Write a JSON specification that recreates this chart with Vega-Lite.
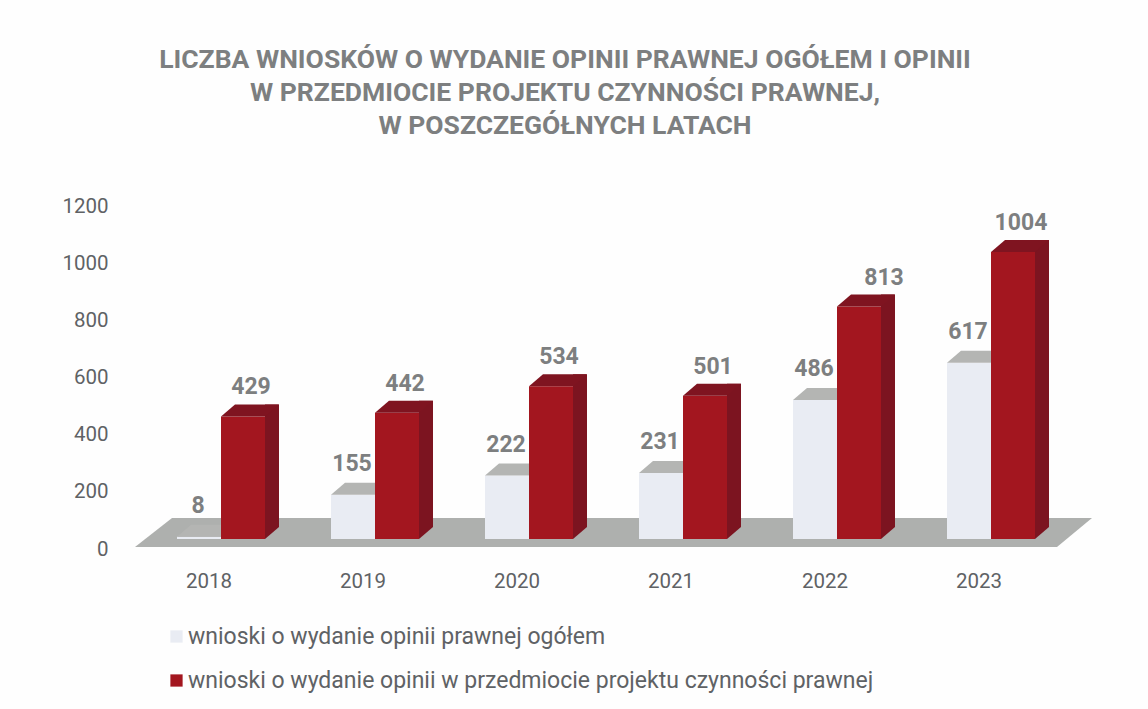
{"$schema":"https://vega.github.io/schema/vega-lite/v6.json","width":924,"height":343,"autosize":"none","padding":{"left":132,"top":204,"right":92,"bottom":162},"background":"#fefefe",
"title":{"text":["LICZBA WNIOSKÓW O WYDANIE OPINII PRAWNEJ OGÓŁEM I OPINII","W PRZEDMIOCIE PROJEKTU CZYNNOŚCI PRAWNEJ,","W POSZCZEGÓŁNYCH LATACH"],"font":"Roboto","fontSize":26.5,"fontWeight":"bold","color":"#7d7f80","lineHeight":33,"anchor":"middle","dx":-29,"offset":57},
"config":{"view":{"stroke":null},"font":"Roboto"},
"data":{"values":[
{"year":"2018","series":"wnioski o wydanie opinii prawnej ogółem","value":8},{"year":"2019","series":"wnioski o wydanie opinii prawnej ogółem","value":155},{"year":"2020","series":"wnioski o wydanie opinii prawnej ogółem","value":222},{"year":"2021","series":"wnioski o wydanie opinii prawnej ogółem","value":231},{"year":"2022","series":"wnioski o wydanie opinii prawnej ogółem","value":486},{"year":"2023","series":"wnioski o wydanie opinii prawnej ogółem","value":617},
{"year":"2018","series":"wnioski o wydanie opinii w przedmiocie projektu czynności prawnej","value":429},{"year":"2019","series":"wnioski o wydanie opinii w przedmiocie projektu czynności prawnej","value":442},{"year":"2020","series":"wnioski o wydanie opinii w przedmiocie projektu czynności prawnej","value":534},{"year":"2021","series":"wnioski o wydanie opinii w przedmiocie projektu czynności prawnej","value":501},{"year":"2022","series":"wnioski o wydanie opinii w przedmiocie projektu czynności prawnej","value":813},{"year":"2023","series":"wnioski o wydanie opinii w przedmiocie projektu czynności prawnej","value":1004}]},
"encoding":{"x":{"field":"year","type":"nominal","title":null,"scale":{"paddingInner":0,"paddingOuter":0},"axis":{"domain":false,"ticks":false,"labelAngle":0,"labelFont":"Roboto","labelFontSize":20.5,"labelColor":"#5f6265","labelPadding":24}},
"y":{"field":"value","type":"quantitative","title":null,"stack":null,"scale":{"domain":[0,1200],"nice":false},"axis":{"domain":false,"ticks":false,"grid":false,"format":"d","values":[0,200,400,600,800,1000,1200],"labelFont":"Roboto","labelFontSize":20.5,"labelColor":"#5f6265","labelPadding":24,"labelOffset":2}},
"color":{"field":"series","type":"nominal","title":null,"scale":{"domain":["wnioski o wydanie opinii prawnej ogółem","wnioski o wydanie opinii w przedmiocie projektu czynności prawnej"],"range":["#e9ecf3","#a3161f"]},"legend":{"orient":"none","legendX":33,"legendY":421,"title":null,"symbolType":"square","symbolSize":150,"symbolStrokeWidth":0,"rowPadding":20,"labelFont":"Roboto","labelFontSize":23,"labelColor":"#5f6265","labelLimit":800,"labelOffset":0,"columns":1}}},
"layer":[
{"transform":[{"filter":"datum.year=='2020' && datum.value==222"}],"encoding":{"y":{"datum":0,"type":"quantitative"},"color":{"value":"#aeb0ae"}},"mark":{"type":"point","filled":true,"opacity":1,"size":4,"strokeWidth":0,"shape":"M-382 0L540 0L575 -29L-345 -29Z"}},
{"transform":[{"filter":"datum.series=='wnioski o wydanie opinii prawnej ogółem'"}],"encoding":{"y2":{"datum":0}},"mark":{"type":"bar","width":44,"xOffset":-10,"yOffset":-8,"y2Offset":-8}},
{"transform":[{"filter":"datum.series=='wnioski o wydanie opinii prawnej ogółem'"}],"encoding":{"color":{"value":"#b4b5b3"}},"mark":{"type":"point","filled":true,"opacity":1,"size":4,"strokeWidth":0,"xOffset":-10,"yOffset":-8,"shape":"M-22 0L22 0L36 -12L-8 -12Z"}},
{"transform":[{"filter":"datum.series=='wnioski o wydanie opinii w przedmiocie projektu czynności prawnej'"}],"encoding":{"y2":{"datum":0},"color":{"value":"#7c1420"}},"mark":{"type":"bar","width":14,"xOffset":63,"yOffset":-20,"y2Offset":-20}},
{"transform":[{"filter":"datum.series=='wnioski o wydanie opinii w przedmiocie projektu czynności prawnej'"}],"encoding":{"y":{"datum":0,"type":"quantitative"},"color":{"value":"#7c1420"}},"mark":{"type":"point","filled":true,"opacity":1,"size":4,"strokeWidth":0,"xOffset":34,"yOffset":-8,"shape":"M22 0L36 -12L22 -12Z"}},
{"transform":[{"filter":"datum.series=='wnioski o wydanie opinii w przedmiocie projektu czynności prawnej'"}],"encoding":{"y2":{"datum":0}},"mark":{"type":"bar","width":44,"xOffset":34,"yOffset":-8,"y2Offset":-8}},
{"transform":[{"filter":"datum.series=='wnioski o wydanie opinii w przedmiocie projektu czynności prawnej'"}],"encoding":{"color":{"value":"#7f1420"}},"mark":{"type":"point","filled":true,"opacity":1,"size":4,"strokeWidth":0,"xOffset":34,"yOffset":-8,"shape":"M-22 0L22 0L36 -12L-8 -12Z"}},
{"transform":[{"filter":"datum.series=='wnioski o wydanie opinii prawnej ogółem'"}],"mark":{"type":"text","font":"Roboto","fontSize":23,"fontWeight":"bold","xOffset":-11,"yOffset":-39},"encoding":{"text":{"field":"value","type":"quantitative"},"color":{"value":"#7d7f80"}}},
{"transform":[{"filter":"datum.series=='wnioski o wydanie opinii w przedmiocie projektu czynności prawnej' && datum.year!='2022'"}],"mark":{"type":"text","font":"Roboto","fontSize":23,"fontWeight":"bold","xOffset":42,"yOffset":-37},"encoding":{"text":{"field":"value","type":"quantitative","format":"d"},"color":{"value":"#7d7f80"}}},
{"transform":[{"filter":"datum.series=='wnioski o wydanie opinii w przedmiocie projektu czynności prawnej' && datum.year=='2022'"}],"mark":{"type":"text","font":"Roboto","fontSize":23,"fontWeight":"bold","xOffset":59,"yOffset":-37},"encoding":{"text":{"field":"value","type":"quantitative"},"color":{"value":"#7d7f80"}}}
]}
